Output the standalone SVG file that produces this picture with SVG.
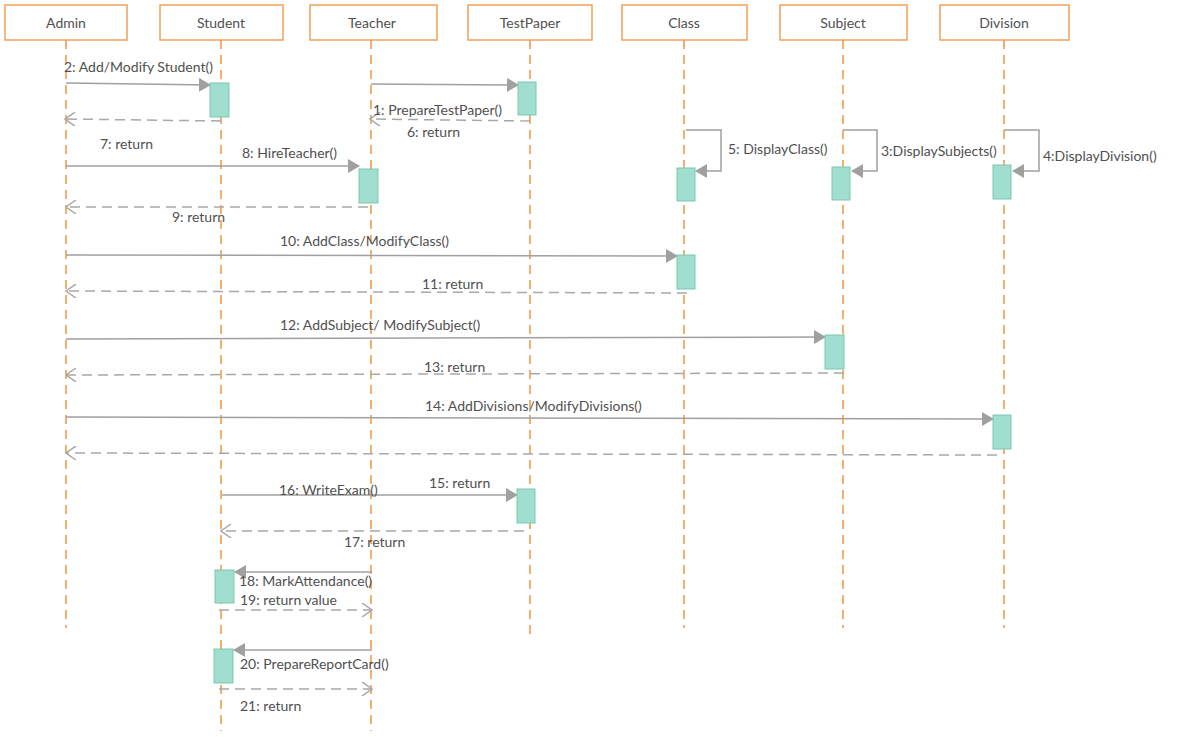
<svg xmlns="http://www.w3.org/2000/svg" width="1178" height="737" viewBox="0 0 1178 737">
<style>
.hdr{fill:#fff;stroke:#F0A05A;stroke-width:1.5}
.ll{stroke:#F0953F;stroke-width:1.5;stroke-dasharray:9 6;fill:none}
.act{fill:#A0DFD0;stroke:#7DC5B0;stroke-width:1}
.msg{stroke:#A0A0A0;stroke-width:1.5;fill:none}
.ret{stroke:#A8A8A8;stroke-width:1.5;fill:none;stroke-dasharray:10 6}
text{font-family:Lato,"Open Sans","Liberation Sans",sans-serif;font-size:14px;fill:#505050}
.ht{text-anchor:middle}
</style>
<defs>
<marker id="fill" viewBox="0 0 12 14" refX="11" refY="7" markerWidth="12" markerHeight="14" markerUnits="userSpaceOnUse" orient="auto">
<path d="M0,0 L12,7 L0,14 Z" fill="#A0A0A0"/>
</marker>
<marker id="open" viewBox="0 0 12 14" refX="11" refY="7" markerWidth="12" markerHeight="14" markerUnits="userSpaceOnUse" orient="auto">
<path d="M1,0 L11,7 L1,14" fill="none" stroke="#A8A8A8" stroke-width="1.5"/>
</marker>
</defs>
<rect width="1178" height="737" fill="#fff"/>
<g id="admin"><rect class="hdr" x="5" y="5" width="122" height="35"/><text class="ht" x="66" y="28">Admin</text><line class="ll" x1="66" y1="40" x2="66" y2="628"/></g>
<g id="student"><rect class="hdr" x="160" y="5" width="123" height="35"/><text class="ht" x="221" y="28">Student</text><line class="ll" x1="221" y1="40" x2="221" y2="731"/></g>
<g id="teacher"><rect class="hdr" x="310" y="5" width="127" height="35"/><text class="ht" x="372" y="28">Teacher</text><line class="ll" x1="371" y1="40" x2="371" y2="731"/></g>
<g id="testpaper"><rect class="hdr" x="468" y="5" width="124" height="35"/><text class="ht" x="530" y="28">TestPaper</text><line class="ll" x1="530" y1="40" x2="530" y2="636"/></g>
<g id="class"><rect class="hdr" x="622" y="5" width="125" height="35"/><text class="ht" x="684" y="28">Class</text><line class="ll" x1="684" y1="40" x2="684" y2="628"/></g>
<g id="subject"><rect class="hdr" x="780" y="5" width="127" height="35"/><text class="ht" x="843" y="28">Subject</text><line class="ll" x1="843" y1="40" x2="843" y2="628"/></g>
<g id="division"><rect class="hdr" x="940" y="5" width="129" height="35"/><text class="ht" x="1004" y="28">Division</text><line class="ll" x1="1004" y1="40" x2="1004" y2="628"/></g>
<g id="connectors">
<line class="msg" x1="66" y1="83" x2="210" y2="85" marker-end="url(#fill)"/>
<line class="ret" x1="221" y1="121" x2="65" y2="119" marker-end="url(#open)"/>
<line class="msg" x1="371" y1="84" x2="518" y2="85" marker-end="url(#fill)"/>
<line class="ret" x1="530" y1="121" x2="370" y2="119" marker-end="url(#open)"/>
<line class="msg" x1="66" y1="166" x2="359" y2="166" marker-end="url(#fill)"/>
<line class="ret" x1="368" y1="207" x2="66" y2="207" marker-end="url(#open)"/>
<polyline class="msg" points="686,130 721,130 721,171 696,171" marker-end="url(#fill)"/>
<polyline class="msg" points="843,130 877,130 877,171 852,171" marker-end="url(#fill)"/>
<polyline class="msg" points="1004,130 1039,130 1039,171 1013,171" marker-end="url(#fill)"/>
<line class="msg" x1="66" y1="255" x2="677" y2="256" marker-end="url(#fill)"/>
<line class="ret" x1="687" y1="293" x2="66" y2="291" marker-end="url(#open)"/>
<line class="msg" x1="66" y1="339" x2="825" y2="337" marker-end="url(#fill)"/>
<line class="ret" x1="844" y1="373" x2="66" y2="375" marker-end="url(#open)"/>
<line class="msg" x1="66" y1="417" x2="993" y2="419" marker-end="url(#fill)"/>
<line class="ret" x1="997" y1="455" x2="66" y2="453" marker-end="url(#open)"/>
<line class="msg" x1="222" y1="495" x2="517" y2="495" marker-end="url(#fill)"/>
<line class="ret" x1="524" y1="531" x2="221" y2="531" marker-end="url(#open)"/>
<line class="msg" x1="372" y1="572" x2="235" y2="572" marker-end="url(#fill)"/>
<line class="ret" x1="219" y1="610" x2="372" y2="610" marker-end="url(#open)"/>
<line class="msg" x1="372" y1="650" x2="234" y2="650" marker-end="url(#fill)"/>
<line class="ret" x1="219" y1="689" x2="372" y2="689" marker-end="url(#open)"/>
</g>
<g id="activations">
<rect class="act" x="210" y="83" width="19" height="34"/>
<rect class="act" x="518" y="82" width="18" height="33"/>
<rect class="act" x="359" y="169" width="19" height="34"/>
<rect class="act" x="677" y="168" width="18" height="33"/>
<rect class="act" x="832" y="167" width="18" height="33"/>
<rect class="act" x="993" y="165" width="18" height="34"/>
<rect class="act" x="677" y="255" width="18" height="34"/>
<rect class="act" x="825" y="335" width="19" height="34"/>
<rect class="act" x="993" y="415" width="18" height="34"/>
<rect class="act" x="517" y="489" width="18" height="34"/>
<rect class="act" x="215" y="570" width="19" height="33"/>
<rect class="act" x="214" y="649" width="19" height="34"/>
</g>
<g id="labels">
<text x="64" y="72">2: Add/Modify Student()</text>
<text x="373" y="115">1: PrepareTestPaper()</text>
<text x="407" y="137">6: return</text>
<text x="100" y="149">7: return</text>
<text x="242" y="158">8: HireTeacher()</text>
<text x="172" y="222">9: return</text>
<text x="728" y="154">5: DisplayClass()</text>
<text x="881" y="156">3:DisplaySubjects()</text>
<text x="1043" y="161">4:DisplayDivision()</text>
<text x="280" y="246">10: AddClass/ModifyClass()</text>
<text x="422" y="289">11: return</text>
<text x="280" y="330">12: AddSubject/ ModifySubject()</text>
<text x="424" y="372">13: return</text>
<text x="425" y="411">14: AddDivisions/ModifyDivisions()</text>
<text x="429" y="488">15: return</text>
<text x="279" y="495">16: WriteExam()</text>
<text x="344" y="547">17: return</text>
<text x="239" y="586">18: MarkAttendance()</text>
<text x="240" y="605">19: return value</text>
<text x="240" y="669">20: PrepareReportCard()</text>
<text x="240" y="711">21: return</text>
</g>
</svg>
